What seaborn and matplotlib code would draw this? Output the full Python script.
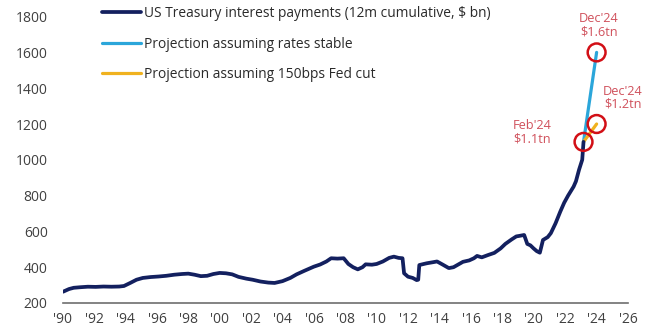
import matplotlib
matplotlib.use("Agg")
import matplotlib.pyplot as plt
import seaborn as sns
import pandas as pd

# US Treasury interest payments, 12m cumulative ($ bn), by decimal year
hist_dates = [
    1990.92, 1991.3, 1991.6, 1992.0, 1992.5, 1993.0, 1993.5, 1994.0, 1994.5, 1994.8,
    1995.2, 1995.6, 1996.0, 1996.5, 1997.0, 1997.5, 1998.0, 1998.5, 1998.9, 1999.3,
    1999.7, 2000.1, 2000.5, 2000.9, 2001.3, 2001.7, 2002.1, 2002.6, 2003.0, 2003.5,
    2004.0, 2004.4, 2004.9, 2005.4, 2005.8, 2006.3, 2006.9, 2007.3, 2007.7, 2008.0,
    2008.4, 2008.8, 2009.1, 2009.4, 2009.7, 2010.0, 2010.2, 2010.6, 2010.9, 2011.3,
    2011.7, 2012.0, 2012.3, 2012.55, 2012.65, 2012.9, 2013.2, 2013.45, 2013.55, 2013.62,
    2013.9, 2014.1, 2014.5, 2014.75, 2015.1, 2015.5, 2015.8, 2016.1, 2016.4, 2016.8,
    2017.1, 2017.3, 2017.6, 2018.0, 2018.4, 2018.8, 2019.1, 2019.5, 2019.8, 2020.0,
    2020.3, 2020.5, 2020.7, 2020.9, 2021.1, 2021.3, 2021.5, 2021.8, 2022.0, 2022.3,
    2022.6, 2022.85, 2023.1, 2023.45, 2023.6, 2023.8, 2024.0, 2024.083,
]
hist_values = [
    263, 278, 285, 288, 291, 290, 292, 291, 292, 295,
    312, 330, 340, 345, 348, 352, 358, 362, 364, 358,
    350, 352, 362, 368, 366, 360, 346, 336, 330, 320,
    314, 312, 322, 340, 360, 380, 403, 415, 432, 450,
    448, 450, 418, 400, 388, 400, 416, 414, 418, 432,
    452, 459, 452, 450, 366, 347, 340, 328, 330, 412,
    418, 422, 428, 432, 415, 395, 400, 415, 430, 438,
    450, 463, 455, 468, 480, 505, 530, 555, 572, 575,
    580, 530, 522, 505, 490, 481, 552, 568, 590, 645,
    710, 760, 800, 850, 880, 945, 1000, 1100,
]

# Projections from Feb'24 to Dec'24
proj_dates = [2024.083, 2024.917]
proj_stable = [1100, 1600]
proj_cut = [1100, 1200]

# Highlighted points and their callouts
callout_dates = [2024.083, 2024.917, 2024.917]
callout_values = [1100, 1600, 1200]
callout_texts = ["Feb'24\n$1.1tn", "Dec'24\n$1.6tn", "Dec'24\n$1.2tn"]
callout_offsets = [(-37, 7), (1.5, 19.5), (19, 19)]  # points

tick_years = list(range(1990, 2027, 2))
tick_labels = ["'" + str(y)[2:] for y in tick_years]
y_ticks = list(range(200, 1801, 200))

NAVY = "#13205f"
BLUE = "#2ba6da"
GOLD = "#f0b21f"
RED_TXT = "#d0515c"
RED_RING = "#d20f16"
GREY_TXT = "#404040"

sns.set_theme(style="white")
plt.rcParams["font.family"] = ["Open Sans", "DejaVu Sans"]

fig = plt.figure(figsize=(6.51, 3.32), dpi=100)
ax = fig.add_axes([63 / 651, 29 / 332, 565 / 651, 286.4 / 332])

hist = pd.DataFrame({"date": hist_dates, "value": hist_values})
proj = pd.DataFrame({"date": proj_dates, "stable": proj_stable, "cut": proj_cut})

sns.lineplot(data=proj, x="date", y="stable", ax=ax, color=BLUE, lw=2.3,
             label="Projection assuming rates stable", zorder=3)
sns.lineplot(data=proj, x="date", y="cut", ax=ax, color=GOLD, lw=2.3,
             label="Projection assuming 150bps Fed cut", zorder=3)
sns.lineplot(data=hist, x="date", y="value", ax=ax, color=NAVY, lw=2.7,
             label="US Treasury interest payments (12m cumulative, $ bn)", zorder=4)

ax.scatter(callout_dates, callout_values, s=165, facecolors="none",
           edgecolors=RED_RING, linewidths=1.8, zorder=5)
for d, v, t, off in zip(callout_dates, callout_values, callout_texts, callout_offsets):
    ax.annotate(t, xy=(d, v), xytext=off, textcoords="offset points",
                ha="center", va="center", fontsize=9.2, color=RED_TXT,
                linespacing=1.0)

ax.set_xlim(1990.917, 2026.917)
ax.set_ylim(200, 1800)
ax.set_xticks([y + 0.917 for y in tick_years])
ax.set_xticklabels(tick_labels)
ax.set_yticks(y_ticks)
ax.set_xlabel("")
ax.set_ylabel("")
ax.tick_params(axis="both", length=0, labelsize=10, labelcolor=GREY_TXT)
ax.tick_params(axis="y", pad=11)
ax.tick_params(axis="x", pad=6.5)

for side in ["left", "right", "top"]:
    ax.spines[side].set_visible(False)
ax.spines["bottom"].set_color("#6e6e6e")
ax.spines["bottom"].set_linewidth(1.2)
ax.grid(False)

handles, labels = ax.get_legend_handles_labels()
order = [2, 0, 1]
ax.legend([handles[i] for i in order], [labels[i] for i in order],
          loc="upper left", bbox_to_anchor=(102 / 651, 1 - 6 / 332),
          bbox_transform=fig.transFigure, frameon=False, fontsize=9.95,
          handlelength=2.8, handletextpad=0.22, labelspacing=1.13,
          borderpad=0, borderaxespad=0, labelcolor="#2a2a2a")

fig.savefig("out.png", dpi=100)
